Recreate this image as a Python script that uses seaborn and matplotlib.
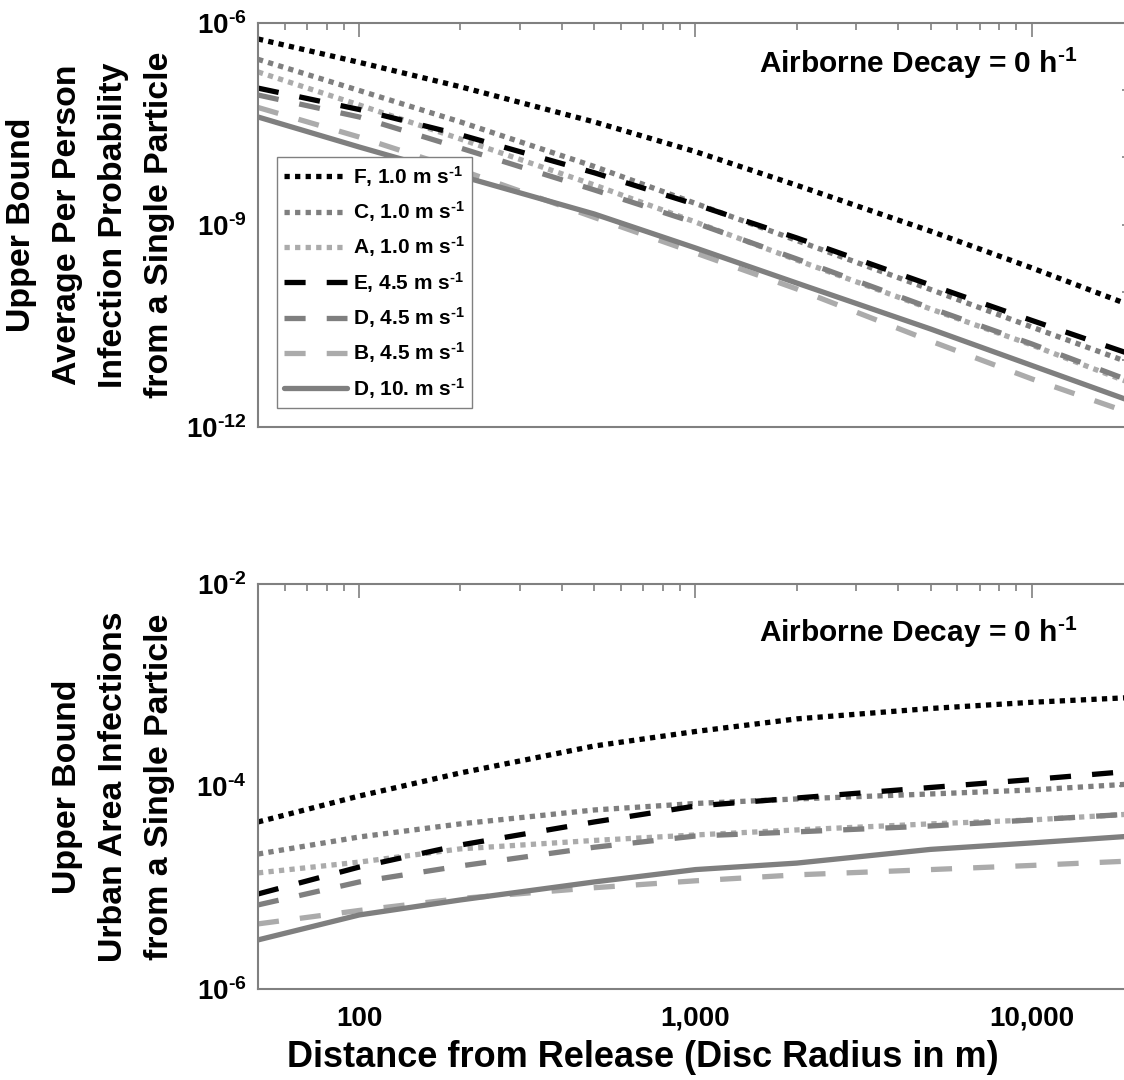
import numpy as np
import seaborn as sns
import matplotlib.pyplot as plt
from matplotlib.ticker import FixedLocator, FuncFormatter, LogLocator, NullFormatter

# distance from release (disc radius, m)
distance = [50, 100, 200, 500, 1000, 2000, 5000, 10000, 20000]

series = ["F, 1.0", "C, 1.0", "A, 1.0", "E, 4.5", "D, 4.5", "B, 4.5", "D, 10."]

# upper bound average per person infection probability
prob_F10 = [5.73e-7, 2.58e-7, 1.12e-7, 3.37e-8, 1.22e-8, 3.87e-9, 8.07e-10, 2.30e-10, 6.18e-11]
prob_C10 = [2.86e-7, 9.86e-8, 3.37e-8, 7.35e-9, 2.08e-9, 5.87e-10, 1.10e-10, 3.05e-11, 8.63e-12]
prob_A10 = [1.86e-7, 6.01e-8, 1.88e-8, 3.91e-9, 1.10e-9, 3.01e-10, 5.65e-11, 1.65e-11, 4.36e-12]
prob_E45 = [1.07e-7, 5.15e-8, 2.17e-8, 5.93e-9, 2.01e-9, 6.40e-10, 1.28e-10, 3.82e-11, 1.17e-11]
prob_D45 = [8.45e-8, 3.99e-8, 1.38e-8, 3.30e-9, 1.07e-9, 3.12e-10, 5.83e-11, 1.71e-11, 4.67e-12]
prob_B45 = [5.52e-8, 2.01e-8, 6.53e-9, 1.29e-9, 3.83e-10, 1.12e-10, 1.89e-11, 5.18e-12, 1.56e-12]
prob_D100 = [3.99e-8, 1.43e-8, 5.32e-9, 1.45e-9, 4.54e-10, 1.37e-10, 2.85e-11, 8.20e-12, 2.36e-12]

# upper bound urban area infections
inf_F10 = [4.46e-5, 8.05e-5, 1.36e-4, 2.51e-4, 3.49e-4, 4.65e-4, 5.89e-4, 6.78e-4, 7.57e-4]
inf_C10 = [2.15e-5, 3.17e-5, 4.27e-5, 5.86e-5, 6.79e-5, 7.53e-5, 8.43e-5, 9.23e-5, 1.06e-4]
inf_A10 = [1.40e-5, 1.79e-5, 2.42e-5, 2.93e-5, 3.32e-5, 3.72e-5, 4.27e-5, 4.67e-5, 5.35e-5]
inf_E45 = [8.67e-6, 1.60e-5, 2.64e-5, 4.46e-5, 6.41e-5, 7.69e-5, 9.77e-5, 1.17e-4, 1.42e-4]
inf_D45 = [6.76e-6, 1.14e-5, 1.64e-5, 2.51e-5, 3.24e-5, 3.56e-5, 4.07e-5, 4.67e-5, 5.35e-5]
inf_B45 = [4.39e-6, 5.96e-6, 7.83e-6, 1.00e-5, 1.17e-5, 1.34e-5, 1.51e-5, 1.66e-5, 1.84e-5]
inf_D100 = [3.05e-6, 5.38e-6, 7.57e-6, 1.14e-5, 1.51e-5, 1.75e-5, 2.39e-5, 2.77e-5, 3.24e-5]

prob = [prob_F10, prob_C10, prob_A10, prob_E45, prob_D45, prob_B45, prob_D100]
infections = [inf_F10, inf_C10, inf_A10, inf_E45, inf_D45, inf_B45, inf_D100]

BLACK, MID, LIGHT = "#000000", "#7f7f7f", "#ababab"
DOT, DASH = (0, (1, 1)), (0, (4, 4))
colors = [BLACK, MID, LIGHT, BLACK, MID, LIGHT, MID]
styles = [DOT, DOT, DOT, DASH, DASH, DASH, "-"]
FRAME = "#808080"

sns.set_theme(style="white")
plt.rcParams["font.family"] = ["Liberation Sans", "DejaVu Sans"]
plt.rcParams["font.weight"] = "bold"
plt.rcParams["text.color"] = "black"
plt.rcParams["axes.labelcolor"] = "black"
plt.rcParams["xtick.labelcolor"] = "black"
plt.rcParams["ytick.labelcolor"] = "black"
plt.rcParams["mathtext.fontset"] = "custom"
plt.rcParams["mathtext.rm"] = "Liberation Sans:bold"
plt.rcParams["mathtext.bf"] = "Liberation Sans:bold"
plt.rcParams["mathtext.it"] = "Liberation Sans:bold"
plt.rcParams["mathtext.default"] = "bf"

fig = plt.figure(figsize=(11.24, 10.8), dpi=100)
ax_top = fig.add_axes([0.2295, 0.6046, 0.7785, 0.3744])
ax_bot = fig.add_axes([0.2295, 0.0843, 0.7785, 0.3750])

SUP = r"$^{\text{-1}}$"


def pow10(v, pos):
    e = int(round(np.log10(v)))
    return rf"10$^{{\text{{{e}}}}}$"


for ax, data in [(ax_top, prob), (ax_bot, infections)]:
    for name, vals, c, ls in zip(series, data, colors, styles):
        sns.lineplot(x=distance, y=vals, ax=ax, color=c, linestyle=ls,
                     linewidth=3.8, label=name + " m s" + SUP, legend=False)
    ax.set_xscale("log")
    ax.set_yscale("log")
    ax.set_xlim(50, 20000)
    ax.xaxis.set_major_locator(FixedLocator([100, 1000, 10000]))
    ax.xaxis.set_minor_locator(LogLocator(base=10, subs=np.arange(2, 10), numticks=20))
    ax.xaxis.set_minor_formatter(NullFormatter())
    ax.tick_params(which="both", direction="in", top=True, right=True,
                   color=FRAME, width=1.2, labelsize=20)
    ax.tick_params(axis="x", pad=12)
    ax.tick_params(axis="y", pad=8)
    ax.tick_params(which="major", length=10)
    ax.tick_params(which="minor", length=5)
    for sp in ax.spines.values():
        sp.set_color(FRAME)
        sp.set_linewidth(1.5)

ax_top.text(0.936, 0.90, "Airborne Decay = 0 h" + SUP, transform=ax_top.transAxes,
            ha="right", va="center", fontsize=21.5, fontweight="bold")
ax_bot.text(0.936, 0.88, "Airborne Decay = 0 h" + SUP, transform=ax_bot.transAxes,
            ha="right", va="center", fontsize=21.5, fontweight="bold")

# top panel axes
ax_top.set_ylim(1e-12, 1e-6)
ax_top.yaxis.set_major_locator(FixedLocator([1e-12, 1e-9, 1e-6]))
ax_top.yaxis.set_minor_locator(FixedLocator([1e-11, 1e-10, 1e-8, 1e-7]))
ax_top.yaxis.set_major_formatter(FuncFormatter(pow10))
ax_top.yaxis.set_minor_formatter(NullFormatter())
ax_top.tick_params(axis="y", which="both", length=8)
ax_top.set_xticklabels([])
ax_top.set_ylabel("Upper Bound\nAverage Per Person\nInfection Probability\nfrom a Single Particle",
                  fontsize=24.4, fontweight="bold", linespacing=1.62)
ax_top.yaxis.set_label_coords(-0.095, 0.5)

ax_top.legend(loc="lower left", bbox_to_anchor=(0.0217, 0.047), fontsize=15,
              handlelength=3.0, handletextpad=0.3, labelspacing=0.5,
              borderpad=0.35, borderaxespad=0, fancybox=False, framealpha=1,
              edgecolor=FRAME)

# bottom panel axes
ax_bot.set_ylim(1e-6, 1e-2)
ax_bot.yaxis.set_major_locator(FixedLocator([1e-6, 1e-4, 1e-2]))
ax_bot.yaxis.set_minor_locator(LogLocator(base=10, subs=np.arange(1, 10), numticks=20))
ax_bot.yaxis.set_major_formatter(FuncFormatter(pow10))
ax_bot.yaxis.set_minor_formatter(NullFormatter())
ax_bot.set_xticklabels(["100", "1,000", "10,000"])
ax_bot.set_ylabel("Upper Bound\nUrban Area Infections\nfrom a Single Particle",
                  fontsize=24.4, fontweight="bold", linespacing=1.62)
ax_bot.yaxis.set_label_coords(-0.095, 0.5)
ax_bot.set_xlabel("Distance from Release (Disc Radius in m)", fontsize=26, fontweight="bold")
ax_bot.xaxis.set_label_coords(0.44, -0.125)

fig.savefig("out.png", dpi=100)
